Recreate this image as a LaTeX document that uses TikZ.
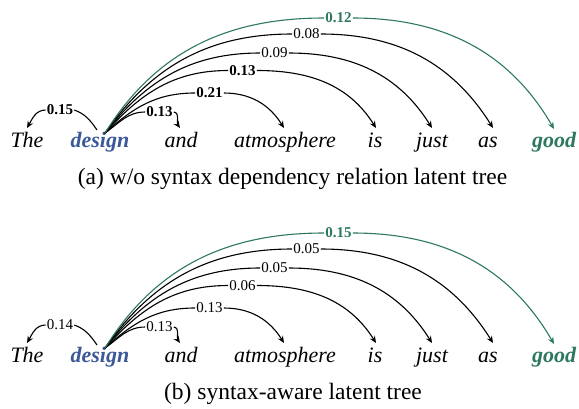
\documentclass[tikz,border=0pt]{standalone}
\usepackage{fontspec}
\setmainfont{Liberation Serif}
\usetikzlibrary{arrows.meta}
\definecolor{dblue}{RGB}{59,89,152}
\definecolor{dgreen}{RGB}{45,120,95}
\begin{document}
\begin{tikzpicture}[x=1pt,y=-1pt,
 word/.style={anchor=base,inner sep=0pt,font=\fontsize{22}{22}\selectfont\itshape},
 hword/.style={word,font=\fontsize{22}{22}\selectfont\itshape\bfseries},
 lab/.style={inner sep=1pt,font=\fontsize{15}{15}\selectfont},
 blab/.style={inner sep=1pt,font=\fontsize{15}{15}\selectfont\bfseries},
 link/.style={line width=1.1pt},
 arrowtip/.style={-{Stealth[length=7pt,width=6pt,inset=2.5pt]}},
 capt/.style={anchor=base,inner sep=0pt,font=\fontsize{23.5}{24}\selectfont}]
\useasboundingbox (0,0) rectangle (579,408);
% ---------- panel (a)
\begin{scope}
\node[word] (aThe) at (27,147) {The};
\node[hword,text=dblue] (adesign) at (100,147) {design};
\node[word] (aand) at (181,147) {and};
\node[word] (aatm) at (285,147) {atmosphere};
\node[word] (ais) at (375,147) {is};
\node[word] (ajust) at (432,147) {just};
\node[word] (aas) at (488,147) {as};
\node[hword,text=dgreen] (agood) at (554,147) {good};
\coordinate (aD) at (105,133);
\coordinate (aDl) at (97,130);
\coordinate (aT0) at (27,128);
\coordinate (aT1) at (180,128);
\coordinate (aT2) at (284,128);
\coordinate (aT3) at (376,128);
\coordinate (aT4) at (432,128);
\coordinate (aT5) at (493,128);
\coordinate (aT6) at (554,129);
\node[blab] (aL0) at (60,110) {0.15};
\node[blab] (aL1) at (159.5,112) {0.13};
\node[blab] (aL2) at (209.5,93) {0.21};
\node[blab] (aL3) at (242.5,70.5) {0.13};
\node[lab] (aL4) at (274.5,53) {0.09};
\node[lab] (aL5) at (306.5,34) {0.08};
\node[blab,text=dgreen] (aL6) at (338.5,18) {0.12};
\draw[link] (aDl) to[out=125,in=-20] (aL0.east);
\draw[link,arrowtip] (aL0.west) to[out=180,in=60] (aT0);
\draw[link] (aD) to[out=35,in=180] (aL1.west);
\draw[link,arrowtip] (aL1.east) to[out=-10,in=125] (aT1);
\draw[link] (aD) to[out=42,in=180] (aL2.west);
\draw[link,arrowtip] (aL2.east) to[out=0,in=122] (aT2);
\draw[link] (aD) to[out=48,in=180] (aL3.west);
\draw[link,arrowtip] (aL3.east) to[out=0,in=122] (aT3);
\draw[link] (aD) to[out=52,in=180] (aL4.west);
\draw[link,arrowtip] (aL4.east) to[out=0,in=122] (aT4);
\draw[link] (aD) to[out=55,in=180] (aL5.west);
\draw[link,arrowtip] (aL5.east) to[out=0,in=122] (aT5);
\draw[link,dgreen] (aD) to[out=58,in=180] (aL6.west);
\draw[link,arrowtip,dgreen] (aL6.east) to[out=0,in=120] (aT6);
\node[capt] (acap) at (292.5,184) {(a) w/o syntax dependency relation latent tree};
\end{scope}
% ---------- panel (b)
\begin{scope}[shift={(0,215)}]
\node[word] (bThe) at (27,147) {The};
\node[hword,text=dblue] (bdesign) at (100,147) {design};
\node[word] (band) at (181,147) {and};
\node[word] (batm) at (285,147) {atmosphere};
\node[word] (bis) at (375,147) {is};
\node[word] (bjust) at (432,147) {just};
\node[word] (bas) at (488,147) {as};
\node[hword,text=dgreen] (bgood) at (554,147) {good};
\coordinate (bD) at (105,133);
\coordinate (bDl) at (97,130);
\coordinate (bT0) at (27,128);
\coordinate (bT1) at (180,128);
\coordinate (bT2) at (284,128);
\coordinate (bT3) at (376,128);
\coordinate (bT4) at (432,128);
\coordinate (bT5) at (493,128);
\coordinate (bT6) at (554,129);
\node[lab] (bL0) at (60,110) {0.14};
\node[lab] (bL1) at (159.5,112) {0.13};
\node[lab] (bL2) at (209.5,93) {0.13};
\node[lab] (bL3) at (242.5,70.5) {0.06};
\node[lab] (bL4) at (274.5,53) {0.05};
\node[lab] (bL5) at (306.5,34) {0.05};
\node[blab,text=dgreen] (bL6) at (338.5,18) {0.15};
\draw[link] (bDl) to[out=125,in=-20] (bL0.east);
\draw[link,arrowtip] (bL0.west) to[out=180,in=60] (bT0);
\draw[link] (bD) to[out=35,in=180] (bL1.west);
\draw[link,arrowtip] (bL1.east) to[out=-10,in=125] (bT1);
\draw[link] (bD) to[out=42,in=180] (bL2.west);
\draw[link,arrowtip] (bL2.east) to[out=0,in=122] (bT2);
\draw[link] (bD) to[out=48,in=180] (bL3.west);
\draw[link,arrowtip] (bL3.east) to[out=0,in=122] (bT3);
\draw[link] (bD) to[out=52,in=180] (bL4.west);
\draw[link,arrowtip] (bL4.east) to[out=0,in=122] (bT4);
\draw[link] (bD) to[out=55,in=180] (bL5.west);
\draw[link,arrowtip] (bL5.east) to[out=0,in=122] (bT5);
\draw[link,dgreen] (bD) to[out=58,in=180] (bL6.west);
\draw[link,arrowtip,dgreen] (bL6.east) to[out=0,in=120] (bT6);
\node[capt] (bcap) at (293,184) {(b) syntax-aware latent tree};
\end{scope}
\end{tikzpicture}
\end{document}
